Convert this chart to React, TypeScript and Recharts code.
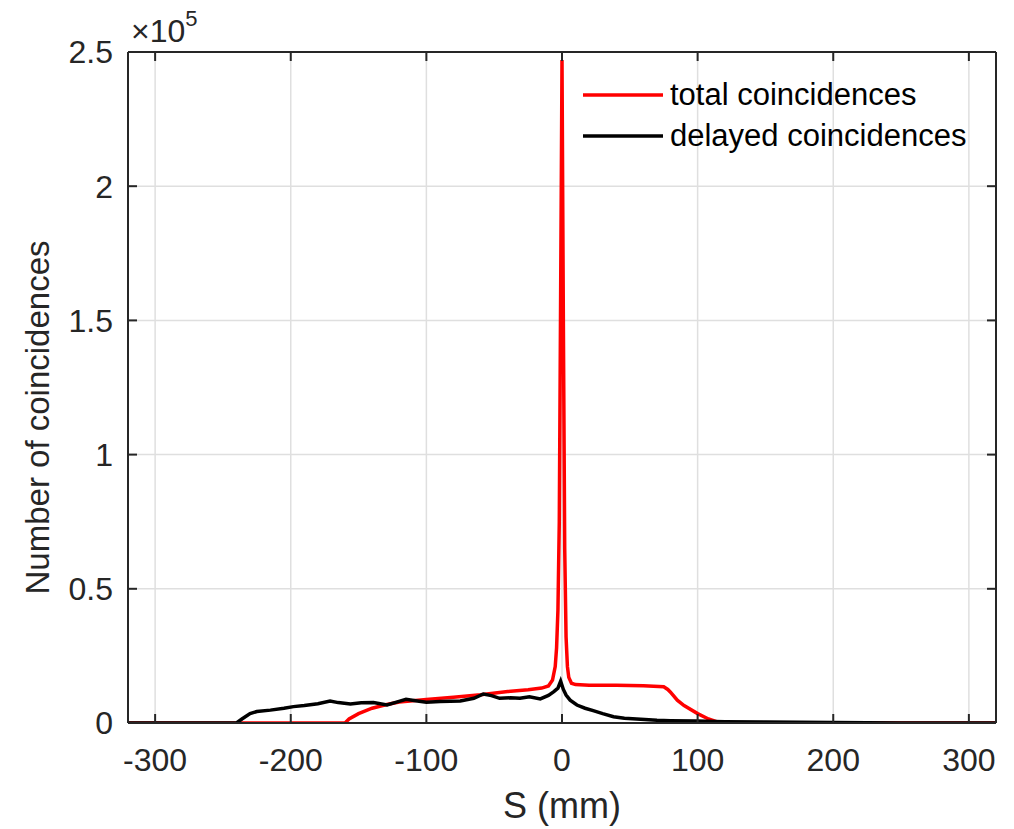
import React from 'react';
import { LineChart, Line, XAxis, YAxis, CartesianGrid, Legend } from 'recharts';

const totalS = [-320, -160, -157, -150, -140, -130, -120, -110, -100, -80, -60, -40, -25, -15, -10, -7, -5, -4, -3, -2, -1, 0, 1, 2, 3, 4, 5, 7, 10, 20, 40, 60, 75, 78, 80, 85, 90, 100, 108, 115, 120, 320];
const totalCounts = [0, 0, 1500, 3500, 5500, 6800, 7800, 8300, 8800, 9600, 10500, 11700, 12400, 13000, 13800, 16000, 21000, 28000, 42000, 75000, 160000, 247000, 150000, 65000, 32000, 21000, 17000, 14800, 14300, 14100, 14100, 13900, 13500, 12500, 11500, 8500, 6500, 3500, 1500, 300, 0, 0];

const delayedS = [-320, -240, -236, -230, -225, -215, -205, -198, -190, -180, -171, -165, -156, -148, -139, -129, -122, -115, -108, -100, -90, -75, -65, -58, -52, -46, -38, -31, -24, -16, -10, -6, -3, -1, 1, 3, 6, 11, 17, 23, 30, 38, 46, 55, 70, 80, 99, 120, 150, 200, 250, 320];
const delayedCounts = [0, 0, 1500, 3500, 4300, 4800, 5500, 6100, 6500, 7200, 8200, 7600, 7100, 7500, 7600, 6700, 7800, 8800, 8300, 7700, 8000, 8200, 9200, 10800, 10200, 9200, 9400, 9200, 9800, 9000, 10300, 11700, 13000, 15600, 12500, 10400, 8500, 6700, 5500, 4600, 3500, 2350, 1800, 1500, 1000, 870, 700, 500, 400, 200, 0, 0];

const seriesNames = ['total coincidences', 'delayed coincidences'];
const xTicks = [-300, -200, -100, 0, 100, 200, 300];
const yTicks = [0, 50000, 100000, 150000, 200000, 250000];
const yTickLabels = ['0', '0.5', '1', '1.5', '2', '2.5'];

const totalData = totalS.map((s, i) => ({ s, v: totalCounts[i] }));
const delayedData = delayedS.map((s, i) => ({ s, v: delayedCounts[i] }));

const FONT = '"Liberation Sans", Arial, Helvetica, sans-serif';
const INK = '#262626';
const GRID = '#dfdfdf';

const fmtY = (v: number) => {
  const i = yTicks.indexOf(v);
  return i >= 0 ? yTickLabels[i] : String(v / 1e5);
};
const empty = () => '';

const renderLegend = (props: any) => {
  const payload = [...(props.payload || [])].sort(
    (a: any, b: any) => seriesNames.indexOf(a.value) - seriesNames.indexOf(b.value)
  );
  return (
    <div style={{ fontFamily: FONT }}>
      {payload.map((p: any, i: number) => (
        <div key={i} style={{ display: 'flex', alignItems: 'center', height: 41 }}>
          <svg width={80} height={6} style={{ display: 'block' }}>
            <line x1={0} y1={3} x2={80} y2={3} stroke={p.color} strokeWidth={3.5} />
          </svg>
          <span style={{ marginLeft: 7, fontSize: 31, color: '#000', lineHeight: '41px' }}>{p.value}</span>
        </div>
      ))}
    </div>
  );
};

const scaleLabel = (props: any) => {
  const vb = props.viewBox || { x: 128, y: 52 };
  return (
    <text x={vb.x + 3} y={vb.y - 10} fill={INK} fontFamily={FONT} fontSize={32}>
      ×10
      <tspan dy={-16} fontSize={22}>5</tspan>
    </text>
  );
};

export default function App() {
  return (
    <div style={{ position: 'absolute', left: 0, top: 0, width: 1014, height: 829, background: '#fff' }}>
      <LineChart width={1014} height={829} margin={{ top: 52, right: 18, left: 68, bottom: 6 }}>
        <CartesianGrid xAxisId="b" yAxisId="l" stroke={GRID} strokeWidth={1.5} />
        <XAxis
          xAxisId="b"
          dataKey="s"
          type="number"
          domain={[-320, 320]}
          allowDataOverflow
          ticks={xTicks}
          height={100}
          tickSize={0}
          tickMargin={25}
          tickLine={false}
          axisLine={{ stroke: INK, strokeWidth: 2 }}
          tick={{ fill: INK, fontSize: 32, fontFamily: FONT }}
          label={{ value: 'S (mm)', position: 'insideBottom', offset: 5, fill: INK, fontSize: 36, fontFamily: FONT }}
        />
        <XAxis
          xAxisId="bm"
          dataKey="s"
          type="number"
          domain={[-320, 320]}
          allowDataOverflow
          ticks={xTicks}
          mirror
          tickSize={9}
          tickFormatter={empty}
          axisLine={false}
          tickLine={{ stroke: INK, strokeWidth: 2 }}
        />
        <XAxis
          xAxisId="t"
          orientation="top"
          dataKey="s"
          type="number"
          domain={[-320, 320]}
          allowDataOverflow
          ticks={xTicks}
          mirror
          tickSize={9}
          tickFormatter={empty}
          axisLine={{ stroke: INK, strokeWidth: 2 }}
          tickLine={{ stroke: INK, strokeWidth: 2 }}
        />
        <YAxis
          yAxisId="l"
          type="number"
          domain={[0, 250000]}
          allowDataOverflow
          ticks={yTicks}
          width={60}
          tickSize={0}
          tickMargin={15}
          tickLine={false}
          tickFormatter={fmtY}
          axisLine={{ stroke: INK, strokeWidth: 2 }}
          tick={{ fill: INK, fontSize: 32, fontFamily: FONT }}
          label={{
            value: 'Number of coincidences',
            angle: -90,
            position: 'left',
            offset: 31,
            dy: 30,
            fill: INK,
            fontSize: 33,
            fontFamily: FONT,
            style: { textAnchor: 'middle' },
          }}
        />
        <YAxis
          yAxisId="lm"
          type="number"
          domain={[0, 250000]}
          allowDataOverflow
          ticks={yTicks}
          mirror
          tickSize={9}
          tickFormatter={empty}
          axisLine={false}
          tickLine={{ stroke: INK, strokeWidth: 2 }}
          label={{ content: scaleLabel }}
        />
        <YAxis
          yAxisId="r"
          orientation="right"
          type="number"
          domain={[0, 250000]}
          allowDataOverflow
          ticks={yTicks}
          mirror
          tickSize={9}
          tickFormatter={empty}
          axisLine={{ stroke: INK, strokeWidth: 2 }}
          tickLine={{ stroke: INK, strokeWidth: 2 }}
        />
        <Legend
          layout="vertical"
          align="center"
          verticalAlign="middle"
          wrapperStyle={{ left: 583, top: 74, width: 'auto', height: 'auto' }}
          content={renderLegend}
        />
        <Line
          xAxisId="b"
          yAxisId="l"
          data={totalData}
          dataKey="v"
          name={seriesNames[0]}
          stroke="#ff0000"
          strokeWidth={3.5}
          dot={false}
          activeDot={false}
          type="linear"
          isAnimationActive={false}
        />
        <Line
          xAxisId="b"
          yAxisId="l"
          data={delayedData}
          dataKey="v"
          name={seriesNames[1]}
          stroke="#000000"
          strokeWidth={3.5}
          dot={false}
          activeDot={false}
          type="linear"
          isAnimationActive={false}
        />
      </LineChart>
    </div>
  );
}
